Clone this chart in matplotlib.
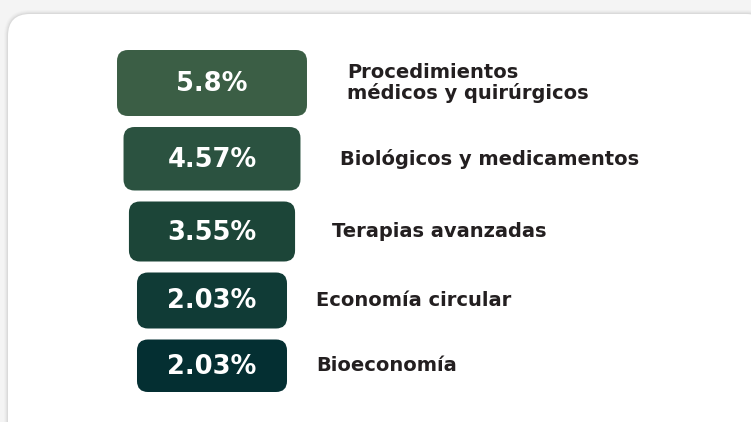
import numpy as np
import matplotlib.pyplot as plt
from matplotlib.patches import FancyBboxPatch

# porcentaje por área
categorias = ["Procedimientos\nmédicos y quirúrgicos",
              "Biológicos y medicamentos",
              "Terapias avanzadas",
              "Economía circular",
              "Bioeconomía"]
valores = [5.8, 4.57, 3.55, 2.03, 2.03]
etiquetas = ["5.8%", "4.57%", "3.55%", "2.03%", "2.03%"]

colores = ["#3b5e45", "#2b5240", "#1c4538", "#103b36", "#042f32"]
alturas = [66, 63.5, 60, 56, 52.5]
sep_texto = [40, 40, 37, 29, 29]

W, H = 751, 422
fig = plt.figure(figsize=(W / 100, H / 100), dpi=100, facecolor="#f4f4f4")
ax = fig.add_axes([0, 0, 1, 1])
ax.set_xlim(0, W)
ax.set_ylim(H, 0)
ax.axis("off")

# tarjeta blanca con sombra suave
for i, a in enumerate([0.015, 0.02, 0.03, 0.04]):
    d = 4 - i
    ax.add_patch(FancyBboxPatch((8 - d, 14 - d), 760 + 2 * d, 430 + 2 * d,
                                boxstyle="round,pad=0,rounding_size=%d" % (22 + d),
                                fc="black", ec="none", alpha=a))
ax.add_patch(FancyBboxPatch((8, 14), 760, 430,
                            boxstyle="round,pad=0,rounding_size=22",
                            fc="white", ec="none"))

# ancho de cada caja en función del valor
def ancho(v):
    return 128.5 + 10.6 * v

cx = 212
y = 50
fuente = "DejaVu Sans"
for cat, v, lab, col, h, g in zip(categorias, valores, etiquetas, colores, alturas, sep_texto):
    w = ancho(v)
    ax.add_patch(FancyBboxPatch((cx - w / 2, y), w, h,
                                boxstyle="round,pad=0,rounding_size=11",
                                fc=col, ec="none"))
    ax.text(cx, y + h / 2 + 1, lab, color="white", fontsize=18.5, fontweight="bold",
            family=fuente, ha="center", va="center")
    ax.text(cx + w / 2 + g, y + h / 2, cat, color="#231f20", fontsize=14,
            fontweight="bold", family=fuente, ha="left", va="center", linespacing=1.05)
    y += h + 11

fig.savefig("out.png", dpi=100, facecolor=fig.get_facecolor())
